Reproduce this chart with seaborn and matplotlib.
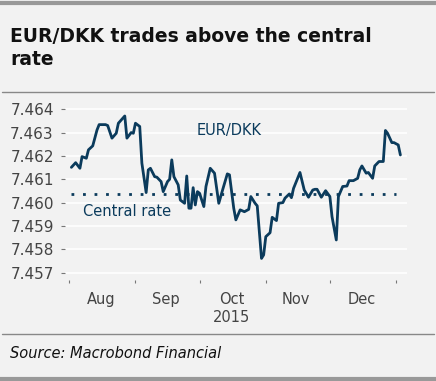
import pandas as pd
import numpy as np
import matplotlib
matplotlib.use('Agg')
import matplotlib.pyplot as plt
import matplotlib.dates as mdates
from matplotlib.ticker import FormatStrFormatter, FixedLocator
from matplotlib.lines import Line2D
import seaborn as sns

# ==================== Data ====================
dates = [
    '2015-08-02', '2015-08-03', '2015-08-04', '2015-08-06', '2015-08-07', '2015-08-09', '2015-08-10',
    '2015-08-12', '2015-08-14', '2015-08-15', '2015-08-18', '2015-08-19', '2015-08-21', '2015-08-23',
    '2015-08-24', '2015-08-27', '2015-08-28', '2015-08-30', '2015-08-31',
    '2015-09-01', '2015-09-03', '2015-09-04', '2015-09-06', '2015-09-07', '2015-09-08', '2015-09-10',
    '2015-09-11', '2015-09-13', '2015-09-14', '2015-09-16', '2015-09-17', '2015-09-18', '2015-09-19',
    '2015-09-21', '2015-09-22', '2015-09-24', '2015-09-25', '2015-09-26', '2015-09-27', '2015-09-28',
    '2015-09-29', '2015-09-30',
    '2015-10-01', '2015-10-03', '2015-10-04', '2015-10-06', '2015-10-08', '2015-10-10', '2015-10-12',
    '2015-10-14', '2015-10-15', '2015-10-17', '2015-10-18', '2015-10-20', '2015-10-22', '2015-10-24',
    '2015-10-25', '2015-10-27', '2015-10-28', '2015-10-30', '2015-10-31',
    '2015-11-01', '2015-11-03', '2015-11-04', '2015-11-06', '2015-11-07', '2015-11-09', '2015-11-10',
    '2015-11-12', '2015-11-13', '2015-11-14', '2015-11-17', '2015-11-19', '2015-11-21', '2015-11-23',
    '2015-11-24', '2015-11-25', '2015-11-27', '2015-11-29',
    '2015-12-01', '2015-12-02', '2015-12-04', '2015-12-05', '2015-12-07', '2015-12-09', '2015-12-10',
    '2015-12-12', '2015-12-14', '2015-12-15', '2015-12-16', '2015-12-18', '2015-12-19', '2015-12-21',
    '2015-12-22', '2015-12-24', '2015-12-26', '2015-12-27', '2015-12-28', '2015-12-30', '2015-12-31',
    '2016-01-02', '2016-01-03',
]
eurdkk = [
    7.46151, 7.46161, 7.46171, 7.46147, 7.46197, 7.46190, 7.46226,
    7.46243, 7.46311, 7.46334, 7.46334, 7.46330, 7.46276, 7.46297,
    7.46340, 7.46371, 7.46276, 7.46300, 7.46297,
    7.46340, 7.46326, 7.46169, 7.46043, 7.46140, 7.46147, 7.46111,
    7.46109, 7.46090, 7.46047, 7.46090, 7.46100, 7.46183, 7.46111,
    7.46076, 7.46011, 7.45997, 7.46114, 7.45976, 7.45976, 7.46064,
    7.45990, 7.46047,
    7.46040, 7.45983, 7.46069, 7.46147, 7.46126, 7.45997, 7.46061,
    7.46123, 7.46119, 7.45976, 7.45926, 7.45969, 7.45961, 7.45971,
    7.46026, 7.45997, 7.45986, 7.45761, 7.45776,
    7.45854, 7.45871, 7.45937, 7.45923, 7.45997, 7.46000, 7.46019,
    7.46037, 7.46021, 7.46061, 7.46129, 7.46054, 7.46023, 7.46054,
    7.46057, 7.46057, 7.46023, 7.46051,
    7.46026, 7.45940, 7.45840, 7.46026, 7.46069, 7.46071, 7.46094,
    7.46094, 7.46104, 7.46140, 7.46157, 7.46126, 7.46129, 7.46104,
    7.46157, 7.46176, 7.46176, 7.46309, 7.46297, 7.46257, 7.46257,
    7.46247, 7.46204,
]
central_rate = 7.46038
yticks = [7.457, 7.458, 7.459, 7.460, 7.461, 7.462, 7.463, 7.464]
month_starts = ['2015-08-01', '2015-09-01', '2015-10-01', '2015-11-01', '2015-12-01', '2016-01-01']
month_mids = ['2015-08-16', '2015-09-15', '2015-10-16', '2015-11-15', '2015-12-16']
month_labels = ['Aug', 'Sep', 'Oct\n2015', 'Nov', 'Dec']

df = pd.DataFrame({'date': pd.to_datetime(dates), 'rate': eurdkk})
central = pd.DataFrame({'date': pd.to_datetime([dates[0], '2016-01-01']),
                        'rate': [central_rate, central_rate]})

# ==================== Style ====================
bg = '#f2f2f2'
navy = '#0b3b5c'
sns.set_theme(style='white', rc={'axes.facecolor': bg, 'figure.facecolor': bg})
plt.rcParams['font.family'] = ['DejaVu Sans']

fig = plt.figure(figsize=(4.36, 3.81), dpi=100)
ax = fig.add_axes([0.149, 0.266, 0.784, 0.478])

sns.lineplot(data=df, x='date', y='rate', ax=ax, color=navy, linewidth=2.0)
sns.lineplot(data=central, x='date', y='rate', ax=ax, color=navy, linewidth=2.0,
             linestyle=(0, (1, 3.15)))

ax.set_ylim(7.4567, 7.4645)
ax.set_xlim(pd.Timestamp('2015-07-30'), pd.Timestamp('2016-01-06'))
ax.set_yticks(yticks)
ax.yaxis.set_major_formatter(FormatStrFormatter('%.3f'))
ax.grid(axis='y', color='white', linewidth=1.2)
ax.set_axisbelow(True)

ax.xaxis.set_major_locator(FixedLocator(mdates.date2num(pd.to_datetime(month_mids))))
ax.set_xticklabels(month_labels)
ax.xaxis.set_minor_locator(FixedLocator(mdates.date2num(pd.to_datetime(month_starts))))
ax.tick_params(axis='x', which='major', length=0, pad=9, labelsize=10.5, labelcolor='#444444')
ax.tick_params(axis='x', which='minor', bottom=True, length=2.5, width=0.8, color='#777777')
ax.tick_params(axis='y', left=True, length=3, width=0.8, color='#777777', pad=5,
               labelsize=11, labelcolor='#444444')
for lbl in ax.get_xticklabels():
    lbl.set_linespacing(1.25)

ax.set_xlabel('')
ax.set_ylabel('')
for s in ax.spines.values():
    s.set_visible(False)

ax.text(pd.Timestamp('2015-10-15'), 7.4631, 'EUR/DKK', color=navy, fontsize=10.5,
        ha='center', va='center')
ax.text(pd.Timestamp('2015-08-28'), 7.4596, 'Central rate', color=navy, fontsize=10.5,
        ha='center', va='center')

# ==================== Frame, title and source ====================
fig.add_artist(Line2D([0, 1], [0.992, 0.992], color='#999999', linewidth=3))
fig.add_artist(Line2D([0.005, 0.995], [0.758, 0.758], color='#888888', linewidth=1))
fig.add_artist(Line2D([0.005, 0.995], [0.124, 0.124], color='#888888', linewidth=1))
fig.add_artist(Line2D([0, 1], [0.006, 0.006], color='#999999', linewidth=3))

fig.text(0.023, 0.905, 'EUR/DKK trades above the central', fontsize=13.5, fontweight='bold',
         color='#111111', va='center')
fig.text(0.023, 0.843, 'rate', fontsize=13.5, fontweight='bold', color='#111111', va='center')
fig.text(0.023, 0.073, 'Source: Macrobond Financial', fontsize=10.5, style='italic',
         color='#111111', va='center')

fig.savefig('out.png', dpi=100, facecolor=bg)
plt.close(fig)
